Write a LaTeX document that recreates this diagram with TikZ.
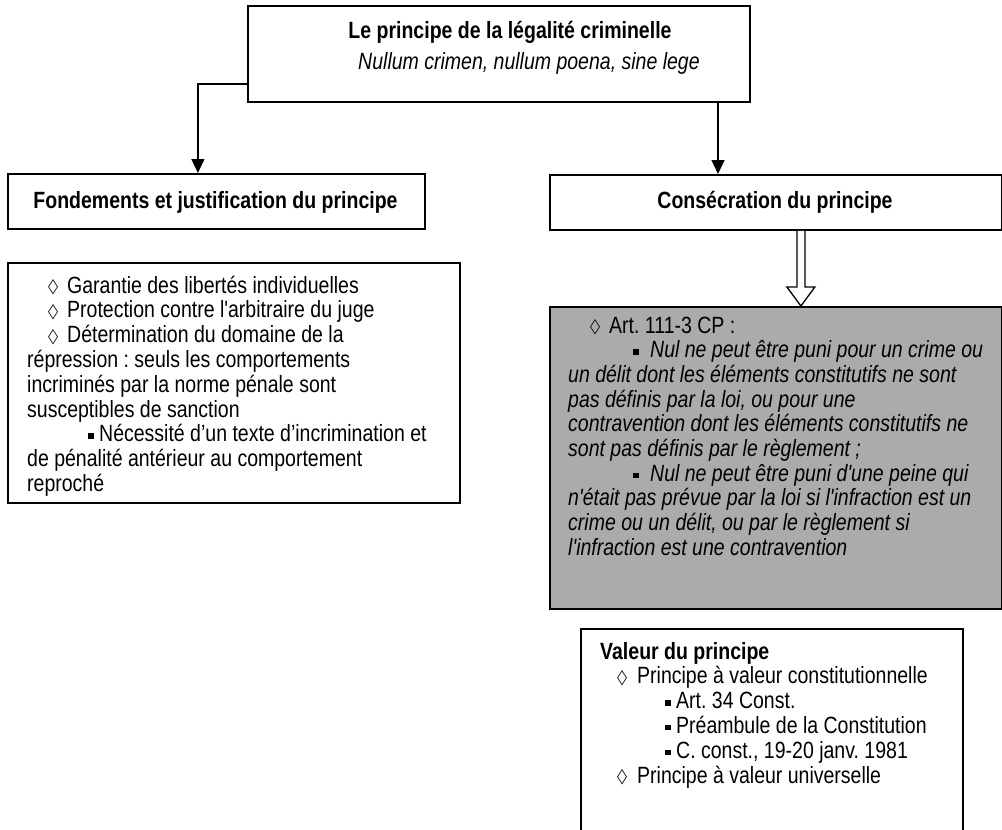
\documentclass[tikz,border=0pt]{standalone}
\usepackage{fontspec}
\setmainfont{Liberation Sans}[FakeStretch=0.83, Ligatures=TeXOff]
\newfontfamily\symfont{DejaVu Sans}
\usetikzlibrary{arrows.meta,calc}
\definecolor{boxgray}{RGB}{171,171,171}
\newcommand\fs{\fontsize{23.5}{24.8}\selectfont\frenchspacing}
\newcommand\dglyph{\raisebox{0.5pt}{\resizebox{10pt}{13pt}{\symfont ◇}}}
\newcommand\dia{\makebox[19pt][l]{\dglyph}}
\newcommand\diab{\makebox[20pt][l]{\dglyph}}
\newcommand\sqb{\makebox[11pt][l]{\rule[3pt]{5.5pt}{5.5pt}}}
\newcommand\sqg{\makebox[17pt][l]{\rule[3pt]{5.5pt}{5.5pt}}}
\begin{document}
\begin{tikzpicture}[x=1pt,y=-1pt,
  every node/.style={inner sep=0pt, font=\fs},
  box/.style={draw, line width=1.8pt, anchor=north west, inner sep=0pt},
  conn/.style={line width=1.4pt, -{Triangle[length=14pt,width=13pt]}},
  ln/.style={anchor=base west},
  ctr/.style={anchor=base}]
\useasboundingbox (0,0) rectangle (1002,830);
\clip (0,0) rectangle (1002,830);

% boxes
\node[box, minimum width=502pt, minimum height=96pt] (top) at (247,5) {};
\node[box, minimum width=417pt, minimum height=55pt] (fond) at (7,173) {};
\node[box, minimum width=452pt, minimum height=55pt] (cons) at (549,174) {};
\node[box, minimum width=452pt, minimum height=240pt] (lbox) at (7,262) {};
\node[box, fill=boxgray, minimum width=452pt, minimum height=302pt] (gbox) at (549,306) {};
\node[box, minimum width=382pt, minimum height=230pt] (vbox) at (580,628) {};

% top texts
\node[ctr, font=\fs\bfseries] (t1) at (510,38) {Le principe de la légalité criminelle};
\node[ctr, font=\fs\itshape] (t2) at (529,69) {Nullum crimen, nullum poena, sine lege};
\node[ctr, font=\fs\bfseries] (f1) at (215.5,208) {Fondements et justification du principe};
\node[ctr, font=\fs\bfseries] (c1) at (775,208) {Consécration du principe};

% connectors
\draw[conn] ([yshift=19pt]top.south west) -| ([xshift=-18.5pt]fond.north);
\coordinate (rx) at (718,0);
\draw[conn] (top.south -| rx) -- (cons.north -| rx);

% hollow arrow
\coordinate (hs) at ($(cons.south)+(25,0)$);
\coordinate (ht) at (gbox.north -| hs);
\draw[line width=1.3pt, fill=white, line join=miter]
  ($(hs)+(-4,0)$) -- ($(ht)+(-4,-19)$) -- ($(ht)+(-14,-19)$) -- (ht)
  -- ($(ht)+(14,-19)$) -- ($(ht)+(4,-19)$) -- ($(hs)+(4,0)$);

% left box text
\node[ln] (l1) at (48,293.0) {\dia Garantie des libertés individuelles};
\node[ln] (l2) at (48,317.8) {\dia Protection contre l'arbitraire du juge};
\node[ln] (l3) at (48,342.6) {\dia Détermination du domaine de la};
\node[ln] (l4) at (27,367.4) {répression : seuls les comportements};
\node[ln] (l5) at (27,392.2) {incriminés par la norme pénale sont};
\node[ln] (l6) at (27,417.0) {susceptibles de sanction};
\node[ln] (l7) at (88,441.8) {\sqb Nécessité d’un texte d’incrimination et};
\node[ln] (l8) at (27,466.6) {de pénalité antérieur au comportement};
\node[ln] (l9) at (27,491.4) {reproché};

% gray box text
\node[ln] (g1) at (590,333.0) {\dia Art. 111-3 CP :};
\node[ln] (g2) at (633,357.7) {\sqg\textit{Nul ne peut être puni pour un crime ou}};
\node[ln, font=\fs\itshape] (g3) at (568,382.4) {un délit dont les éléments constitutifs ne sont};
\node[ln, font=\fs\itshape] (g4) at (568,407.1) {pas définis par la loi, ou pour une};
\node[ln, font=\fs\itshape] (g5) at (568,431.8) {contravention dont les éléments constitutifs ne};
\node[ln, font=\fs\itshape] (g6) at (568,456.5) {sont pas définis par le règlement ;};
\node[ln] (g7) at (633,481.2) {\sqg\textit{Nul ne peut être puni d'une peine qui}};
\node[ln, font=\fs\itshape] (g8) at (568,505.9) {n'était pas prévue par la loi si l'infraction est un};
\node[ln, font=\fs\itshape] (g9) at (568,530.6) {crime ou un délit, ou par le règlement si};
\node[ln, font=\fs\itshape] (g10) at (568,555.3) {l'infraction est une contravention};

% bottom box text
\node[ln, font=\fs\bfseries] (v1) at (600,659.0) {Valeur du principe};
\node[ln] (v2) at (617,683.8) {\diab Principe à valeur constitutionnelle};
\node[ln] (v3) at (665,708.6) {\sqb Art. 34 Const.};
\node[ln] (v4) at (665,733.4) {\sqb Préambule de la Constitution};
\node[ln] (v5) at (665,758.2) {\sqb C. const., 19-20 janv. 1981};
\node[ln] (v6) at (617,783.0) {\diab Principe à valeur universelle};
\end{tikzpicture}
\end{document}
